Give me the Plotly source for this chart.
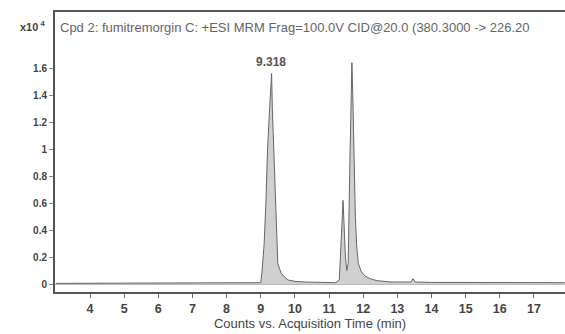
import plotly.graph_objects as go

# Acquisition time (min)
time_min = [3.0, 5.0, 7.0, 8.9, 9.0, 9.04, 9.1, 9.15, 9.2, 9.26, 9.3, 9.318, 9.34, 9.38,
            9.42, 9.46, 9.5, 9.6, 9.7, 9.8, 10.0, 10.3, 10.8, 11.2, 11.3, 11.34, 11.38,
            11.41, 11.44, 11.48, 11.52, 11.56, 11.61, 11.64, 11.67, 11.7, 11.73, 11.77,
            11.81, 11.86, 11.95, 12.05, 12.2, 12.4, 12.8, 13.4, 13.46, 13.52, 14.0, 16.0, 17.9]
# Counts (x10^4)
counts = [0.005, 0.006, 0.005, 0.006, 0.01, 0.1, 0.3, 0.6, 1.0, 1.3, 1.5, 1.56, 1.3, 1.0,
          0.6, 0.35, 0.15, 0.08, 0.05, 0.03, 0.02, 0.015, 0.01, 0.01, 0.03, 0.2, 0.45,
          0.62, 0.45, 0.2, 0.1, 0.15, 0.9, 1.35, 1.64, 1.35, 0.9, 0.5,
          0.28, 0.15, 0.09, 0.06, 0.04, 0.025, 0.015, 0.015, 0.04, 0.015, 0.012, 0.01, 0.01]

x_ticks = [4, 5, 6, 7, 8, 9, 10, 11, 12, 13, 14, 15, 16, 17]
y_ticks = [0, 0.2, 0.4, 0.6, 0.8, 1.0, 1.2, 1.4, 1.6]
y_tick_labels = ["0", "0.2", "0.4", "0.6", "0.8", "1", "1.2", "1.4", "1.6"]
peak_label_time = 9.318
peak_label_value = 1.56
title_text = "Cpd 2: fumitremorgin C: +ESI MRM Frag=100.0V CID@20.0 (380.3000 -> 226.20"

FONT = "Liberation Sans, Arial"

fig = go.Figure()
fig.add_trace(go.Scatter(
    x=time_min, y=counts, mode="lines",
    line=dict(color="#666666", width=1),
    fill="tozeroy", fillcolor="rgba(150,150,150,0.45)",
    hoverinfo="skip", showlegend=False,
))

fig.add_annotation(x=peak_label_time, y=peak_label_value, text="<b>9.318</b>",
                   showarrow=False, yshift=11, xshift=-1,
                   font=dict(family=FONT, size=12, color="#555"))

fig.add_annotation(xref="paper", yref="paper", x=0.006, y=0.943, xanchor="left", yanchor="middle",
                   text=title_text, showarrow=False,
                   font=dict(family=FONT, size=13, color="#666"))
fig.add_annotation(xref="paper", yref="paper", x=-0.016, y=0.95, xanchor="right", yanchor="middle",
                   text="<b>x10</b><sup><b> 4</b></sup>", showarrow=False,
                   font=dict(family=FONT, size=11, color="#444"))

fig.update_layout(
    width=565, height=334,
    margin=dict(l=55, r=0, t=12, b=42),
    paper_bgcolor="white", plot_bgcolor="white",
    xaxis=dict(
        range=[2.975, 17.91], tickmode="array", tickvals=x_ticks,
        ticktext=[f"<b>{t}</b>" for t in x_ticks],
        ticks="outside", ticklen=4, tickcolor="#666",
        showline=True, linecolor="#555", linewidth=2, mirror=True,
        showgrid=False, zeroline=False,
        tickfont=dict(family=FONT, size=12.5, color="#444"),
        title=dict(text="Counts vs. Acquisition Time (min)", standoff=2,
                   font=dict(family=FONT, size=13, color="#444")),
    ),
    yaxis=dict(
        range=[-0.059, 2.015], tickmode="array", tickvals=y_ticks,
        ticktext=[f"<b>{t}</b>" for t in y_tick_labels],
        ticks="outside", ticklen=4, tickcolor="#888",
        showline=True, linecolor="#555", linewidth=2,
        showgrid=False, zeroline=True, zerolinecolor="#bbb", zerolinewidth=1,
        tickfont=dict(family=FONT, size=10, color="#444"),
    ),
)

fig.write_html("out.html")
